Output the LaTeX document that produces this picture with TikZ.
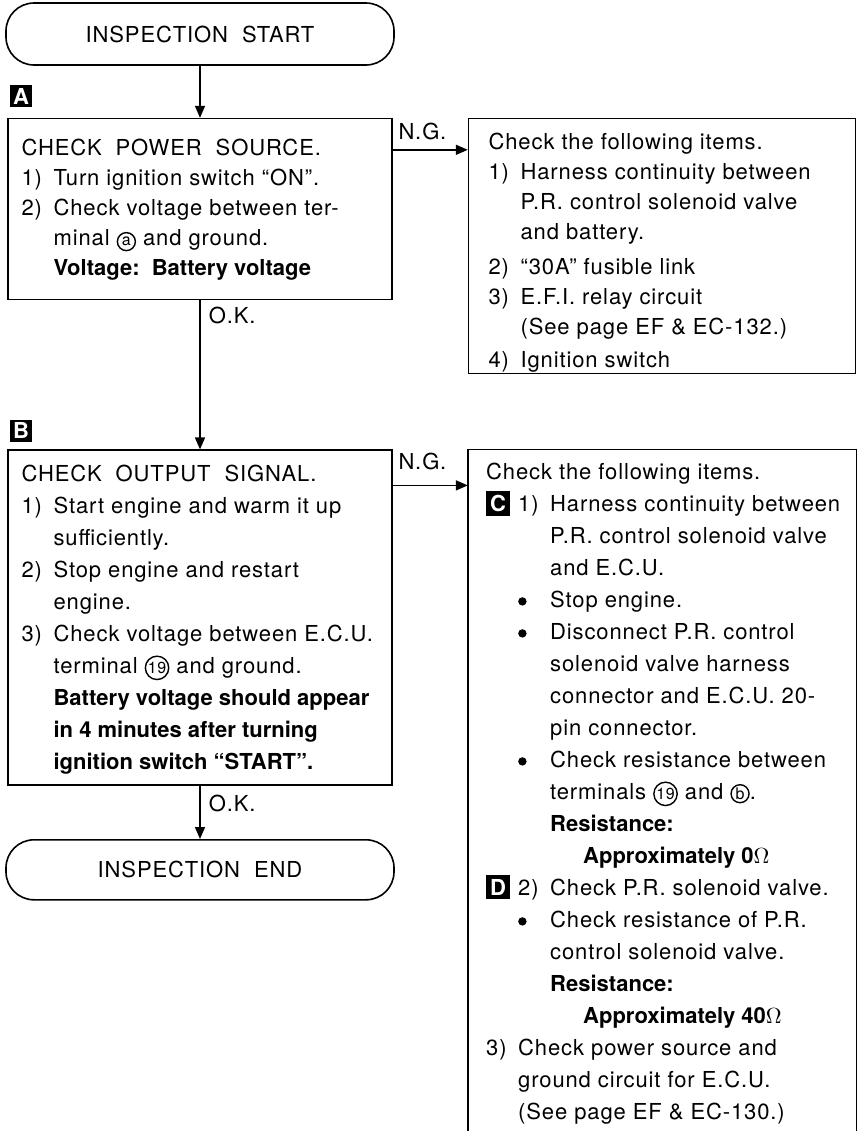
\documentclass[tikz,border=0pt]{standalone}
\usepackage{fontspec}
\setmainfont{TeX Gyre Heros}[LetterSpace=4,BoldFeatures={LetterSpace=0}]
\usetikzlibrary{arrows.meta,positioning}

% hanging indents for the numbered lines
\newcommand{\num}[1]{\makebox[16pt][l]{#1}}
\newcommand{\ind}{\hspace*{16pt}}
\newcommand{\dotitem}{\num{\tikz[baseline=-3pt]\fill (0,0) circle (2.1pt);}}
% circled terminal number
\newcommand{\term}[1]{\tikz[baseline=(t.base)]\node[draw,circle,anchor=center,align=center,
  line width=0.7pt,inner sep=0.3pt,minimum size=9pt,font=\fontsize{8}{8}\selectfont](t){#1};}
% white letter on a black square
\newcommand{\blk}[1]{{\fboxsep=2pt\colorbox{black}{\textcolor{white}{\bfseries #1}}}}

\begin{document}
\begin{tikzpicture}[x=1pt,y=1pt,line width=0.8pt,font=\fontsize{11}{15}\selectfont,
  >={Triangle[length=6pt,width=5pt]},
  endpoint/.style={draw,rounded corners=14pt,minimum width=194pt,inner sep=0pt},
  framebox/.style={draw,minimum width=192pt,inner sep=0pt},
  listbox/.style={minimum width=193.5pt,inner sep=0pt},
  textblock/.style={align=left,inner sep=0pt},
  tagbox/.style={fill=black,text=white,font=\fontsize{11}{11}\selectfont\bfseries,
    inner sep=1pt,minimum size=11pt},
  ngok/.style={inner sep=0pt}]
\useasboundingbox (0,0) rectangle (429,-565.5);

% main column
\node[endpoint,minimum height=31pt] (start) at (100,-17) {INSPECTION\ \ START};
\node[framebox,minimum height=90.5pt,below=26pt of start] (chkA) {};
\node[framebox,minimum height=167.5pt,below=74.5pt of chkA] (chkB) {};
\node[endpoint,minimum height=30pt,below=26.5pt of chkB] (stop) {INSPECTION\ \ END};

% N.G. side boxes
\node[listbox,draw,minimum height=127.5pt,right=37.5pt of chkA.north east,anchor=north west] (itemsA) {};
\node[listbox,minimum height=345pt,right=37.5pt of chkB.north east,anchor=north west] (itemsB) {};
\draw (itemsB.south west) -- (itemsB.north west) -- (itemsB.north east) -- (itemsB.south east);

\node[tagbox,above right=5pt and 1pt of chkA.north west] (tagA) {A};
\node[tagbox,above right=3.5pt and 1pt of chkB.north west] (tagB) {B};

% the base of a text block is its last line
\node[textblock,below right=79pt and 7pt of chkA.north west,anchor=base west] (txtA) {%
CHECK\ \ POWER\ \ SOURCE.\\
\num{1)}Turn ignition switch ``ON''.\\
\num{2)}Check voltage between ter-\\
\ind minal \term{a} and ground.\\
\ind\textbf{Voltage:\ \ Battery voltage}};

\node[textblock,font=\fontsize{11}{16}\selectfont,below right=160pt and 7pt of chkB.north west,anchor=base west] (txtB) {%
CHECK\ \ OUTPUT\ \ SIGNAL.\\
\num{1)}Start engine and warm it up\\
\ind sufficiently.\\
\num{2)}Stop engine and restart\\
\ind engine.\\
\num{3)}Check voltage between E.C.U.\\
\ind terminal \term{19} and ground.\\
\ind\textbf{Battery voltage should appear}\\
\ind\textbf{in 4 minutes after turning}\\
\ind\textbf{ignition switch ``START''.}};

\node[textblock,font=\fontsize{11}{15}\selectfont,below right=125pt and 10pt of itemsA.north west,anchor=base west] (txtA2) {%
Check the following items.\\
\num{1)}Harness continuity between\\
\ind P.R. control solenoid valve\\
\ind and battery.\\[2.5pt]
\num{2)}``30A'' fusible link\\
\num{3)}E.F.I. relay circuit\\
\ind (See page EF \& EC-132.)\\[1.5pt]
\num{4)}Ignition switch};

\node[textblock,font=\fontsize{11}{16}\selectfont,below right=335pt and 9pt of itemsB.north west,anchor=base west] (txtB2) {%
Check the following items.\\
\num{\blk{C}}\num{1)}Harness continuity between\\
\ind\ind P.R. control solenoid valve\\
\ind\ind and E.C.U.\\
\ind\dotitem Stop engine.\\
\ind\dotitem Disconnect P.R. control\\
\ind\ind solenoid valve harness\\
\ind\ind connector and E.C.U. 20-\\
\ind\ind pin connector.\\
\ind\dotitem Check resistance between\\
\ind\ind terminals \term{19} and \term{b}.\\
\ind\ind\textbf{Resistance:}\\
\ind\ind\hspace*{16.5pt}\textbf{Approximately 0$\Omega$}\\
\num{\blk{D}}\num{2)}Check P.R. solenoid valve.\\
\ind\dotitem Check resistance of P.R.\\
\ind\ind control solenoid valve.\\
\ind\ind\textbf{Resistance:}\\
\ind\ind\hspace*{16.5pt}\textbf{Approximately 40$\Omega$}\\
\num{3)}Check power source and\\
\ind ground circuit for E.C.U.\\
\ind (See page EF \& EC-130.)};

% connectors
\draw[->] (start) -- (chkA);
\draw[->] (chkA) -- (chkB);
\draw[->] (chkB) -- (stop);
\node[ngok,below right=11.5pt and 4pt of chkA.south,anchor=base west] (okA) {O.K.};
\node[ngok,below right=12.5pt and 4pt of chkB.south,anchor=base west] (okB) {O.K.};

\coordinate[below=16pt of chkA.north east] (ngA);
\coordinate[below=18pt of chkB.north east] (ngB);
\draw[->] (ngA) -- (ngA -| itemsA.west);
\draw[->] (ngB) -- (ngB -| itemsB.west);
\node[ngok,above right=5pt and 2.5pt of ngA,anchor=base west] (ngtxtA) {N.G.};
\node[ngok,above right=8pt and 2.5pt of ngB,anchor=base west] (ngtxtB) {N.G.};
\end{tikzpicture}
\end{document}
